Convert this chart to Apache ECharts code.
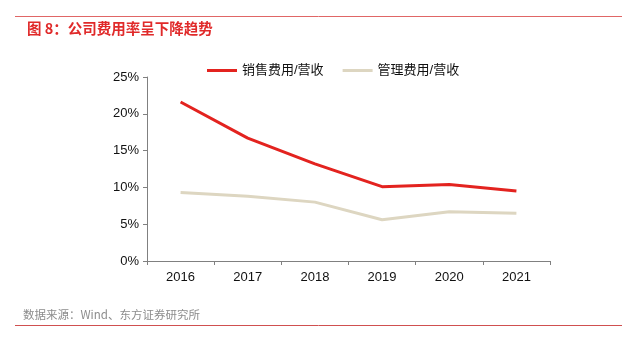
<!DOCTYPE html>
<html><head><meta charset="utf-8">
<script src="https://cdn.jsdelivr.net/npm/echarts@6/dist/echarts.min.js"></script>
<style>html,body{margin:0;padding:0;background:#fff}#c{width:622px;height:343px}</style>
</head><body><div id="c"></div>
<script>
var categories = ['2016','2017','2018','2019','2020','2021'];
var salesRatio = [21.6, 16.7, 13.2, 10.1, 10.4, 9.5];
var adminRatio = [9.3, 8.8, 8.0, 5.6, 6.7, 6.5];
var yTicks = [0, 5, 10, 15, 20, 25];
var seriesNames = ['销售费用/营收', '管理费用/营收'];
var titleText = '图 8：公司费用率呈下降趋势';
var sourceText = '数据来源：Wind、东方证券研究所';

var chart = echarts.init(document.getElementById('c'), null, {renderer:'canvas'});
var font = '"Liberation Sans", Arial, "Noto Sans CJK SC", sans-serif';
chart.setOption({
  animation: false,
  textStyle: {fontFamily: font},
  graphic: [
    {type:'line', shape:{x1:15, y1:16.5, x2:622, y2:16.5}, style:{stroke:'#e06666', lineWidth:1}},
    {type:'text', left:27, top:21, style:{text:titleText, fill:'#e02a2a', font:'bold 14.5px "Noto Sans CJK SC", sans-serif'}},
    {type:'text', left:23, top:309, style:{text:sourceText, fill:'#8c8c8c', font:'11.5px "Noto Sans CJK SC", sans-serif'}},
    {type:'line', shape:{x1:15, y1:325.5, x2:622, y2:325.5}, style:{stroke:'#d05050', lineWidth:1}}
  ],
  legend: {
    top: 64, left: 207, padding: 0, itemWidth: 30, itemHeight: 3, itemGap: 19,
    icon: 'rect',
    textStyle: {fontSize: 13, color: '#111', fontFamily: font},
    data: seriesNames
  },
  grid: {left: 147, right: 72, top: 77, bottom: 82, containLabel: false},
  xAxis: {
    type: 'category', data: categories, boundaryGap: true,
    axisLine: {lineStyle: {color: '#808080'}},
    axisTick: {show: true, length: 4, lineStyle:{color:'#808080'}},
    axisLabel: {fontSize: 13, color: '#111', margin: 10, fontFamily: font}
  },
  yAxis: {
    type: 'value', min: 0, max: 25, interval: 5,
    axisLine: {show: true, lineStyle: {color: '#808080'}},
    axisTick: {show: true, length: 4, lineStyle:{color:'#808080'}},
    splitLine: {show: false},
    axisLabel: {fontSize: 13, color: '#111', margin: 8, fontFamily: font,
      formatter: function(v){ return yTicks.indexOf(v) >= 0 ? v + '%' : ''; }}
  },
  series: [
    {name: seriesNames[0], type: 'line', data: salesRatio, symbol: 'none',
     lineStyle: {color: '#e3231f', width: 3}, itemStyle: {color: '#e3231f'}},
    {name: seriesNames[1], type: 'line', data: adminRatio, symbol: 'none',
     lineStyle: {color: '#ddd6c1', width: 3}, itemStyle: {color: '#ddd6c1'}}
  ]
});
</script></body></html>
